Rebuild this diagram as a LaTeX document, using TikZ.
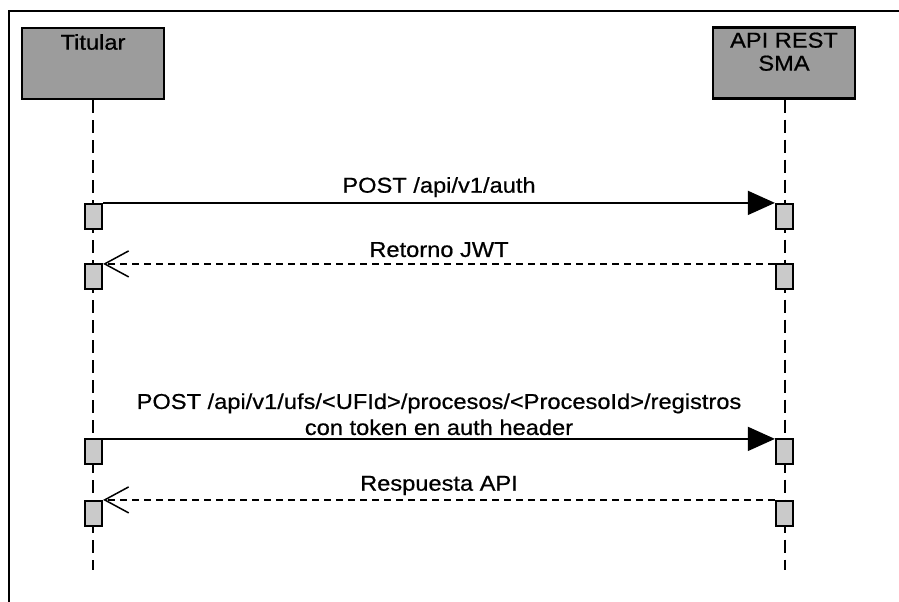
\documentclass[tikz,border=0pt]{standalone}
\usepackage{fontspec}
\setmainfont{Liberation Sans}[FakeStretch=1.1,FakeBold=0.6]
\usetikzlibrary{arrows.meta}
\definecolor{partfill}{HTML}{9C9C9C}
\definecolor{actfill}{HTML}{CACACA}
\tikzset{
  participant/.style={draw=black, line width=2.2pt, fill=partfill, minimum width=142pt, minimum height=71pt, inner sep=0pt},
  parttext/.style={anchor=north, inner sep=0pt, align=center, font=\fontsize{21.5pt}{23pt}\selectfont},
  lifeline/.style={line width=1.5pt, dash pattern=on 13pt off 7pt},
  activation/.style={draw=black, line width=2.2pt, fill=actfill, minimum width=17pt, minimum height=25pt, inner sep=0pt},
  callmsg/.style={line width=1.5pt, -{Triangle[length=27pt,width=24pt]}},
  retmsg/.style={line width=1.5pt, dash pattern=on 7pt off 5pt, -{Straight Barb[length=24pt,width=26pt,line width=1.5pt]}},
  msglabel/.style={inner sep=0pt, align=center, font=\fontsize{21.5pt}{26pt}\selectfont},
  frameline/.style={line width=1.5pt}
}
\begin{document}
\begin{tikzpicture}[x=1pt,y=-1pt]
\useasboundingbox (0,0) rectangle (899,602);
% frame
\coordinate (fTL) at (9,11);
\coordinate (fTR) at (899,11);
\coordinate (fBL) at (9,602);
\draw[frameline] (fTR) -- (fTL) -- (fBL);
% participants
\node[participant] (tBox) at (93,63.5) {};
\node[participant] (sBox) at (784,63) {};
\node[parttext, yshift=-7pt] (tTxt) at (tBox.north) {Titular};
\node[parttext, yshift=-6pt] (sTxt) at (sBox.north) {API REST\\SMA};
% lifelines
\coordinate (tEnd) at (93,570);
\coordinate (sEnd) at (785,570);
\draw[lifeline] (tBox.south) -- (tEnd);
\draw[lifeline] (sBox.south -| sEnd) -- (sEnd);
% activations
\node[activation] (tA1) at (93.5,216.5) {};
\node[activation] (sA1) at (784.5,216.5) {};
\node[activation] (tA2) at (93.5,276.5) {};
\node[activation] (sA2) at (784.5,276.5) {};
\node[activation] (tA3) at (93.5,451.5) {};
\node[activation] (sA3) at (784.5,451.5) {};
\node[activation] (tA4) at (93.5,513.5) {};
\node[activation] (sA4) at (784.5,513.5) {};
% messages
\draw[callmsg] (tA1.north east) -- node[msglabel, above=5pt] (m1) {POST /api/v1/auth} (sA1.north west);
\draw[retmsg] ([yshift=-1pt]sA2.north west) -- node[msglabel, above=6pt] (m2) {Retorno JWT} ([yshift=-1pt]tA2.north east);
\draw[callmsg] ([yshift=-1pt]tA3.north east) -- node[msglabel, above=3pt] (m3) {POST /api/v1/ufs/<UFId>/procesos/<ProcesoId>/registros\\con token en auth header} ([yshift=-1pt]sA3.north west);
\draw[retmsg] (sA4.north west) -- node[msglabel, above=4pt] (m4) {Respuesta API} (tA4.north east);
\end{tikzpicture}
\end{document}
